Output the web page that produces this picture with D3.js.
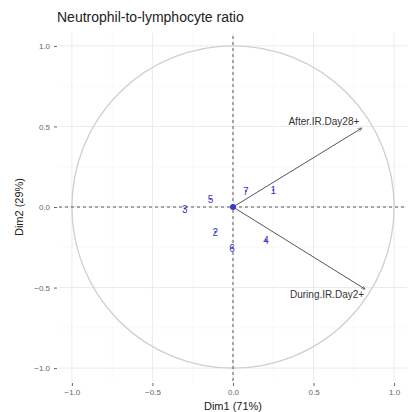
<!DOCTYPE html>
<html>
<head>
<meta charset="utf-8">
<script src="https://cdn.jsdelivr.net/npm/d3@7"></script>
<style>
  body { margin: 0; background: #fff; }
  svg { font-family: "Liberation Sans", Arial, sans-serif; }
</style>
</head>
<body>
<div id="chart"></div>
<script>
// individuals (PCA coordinates)
const indLabels = ["1", "2", "3", "4", "5", "6", "7"];
const indX = [0.25, -0.11, -0.30, 0.205, -0.14, -0.006, 0.08];
const indY = [0.105, -0.155, -0.01, -0.205, 0.05, -0.255, 0.10];

// variables (arrows)
const varNames = ["After.IR.Day28+", "During.IR.Day2+"];
const varX = [0.80, 0.82];
const varY = [0.49, -0.51];

const majorTicks = [-1.0, -0.5, 0.0, 0.5, 1.0];
const minorTicks = [-0.75, -0.25, 0.25, 0.75];

const width = 417, height = 412;
const margin = { top: 33, right: 10, bottom: 31, left: 59 };

const svg = d3.select("#chart")
    .append("svg")
    .attr("width", width)
    .attr("height", height);

const x = d3.scaleLinear().domain([-1.08, 1.08]).range([margin.left, width - margin.right]);
const y = d3.scaleLinear().domain([-1.08, 1.08]).range([height - margin.bottom, margin.top]);

// grid
const grid = svg.append("g");
grid.selectAll(".minx").data(minorTicks).enter().append("line")
    .attr("x1", d => x(d)).attr("x2", d => x(d))
    .attr("y1", y.range()[0]).attr("y2", y.range()[1])
    .attr("stroke", "#f3f3f3").attr("stroke-width", 0.5);
grid.selectAll(".miny").data(minorTicks).enter().append("line")
    .attr("y1", d => y(d)).attr("y2", d => y(d))
    .attr("x1", x.range()[0]).attr("x2", x.range()[1])
    .attr("stroke", "#f3f3f3").attr("stroke-width", 0.5);
grid.selectAll(".majx").data(majorTicks).enter().append("line")
    .attr("x1", d => x(d)).attr("x2", d => x(d))
    .attr("y1", y.range()[0]).attr("y2", y.range()[1])
    .attr("stroke", "#ebebeb").attr("stroke-width", 1);
grid.selectAll(".majy").data(majorTicks).enter().append("line")
    .attr("y1", d => y(d)).attr("y2", d => y(d))
    .attr("x1", x.range()[0]).attr("x2", x.range()[1])
    .attr("stroke", "#ebebeb").attr("stroke-width", 1);

// axes
const fmt = d3.format(".1f");
const xAxis = svg.append("g")
    .attr("transform", "translate(0," + (y.range()[0] + 2) + ")")
    .call(d3.axisBottom(x).tickValues(majorTicks).tickFormat(fmt).tickSize(3).tickPadding(3));
const yAxis = svg.append("g")
    .attr("transform", "translate(" + (x.range()[0] - 2) + ",0)")
    .call(d3.axisLeft(y).tickValues(majorTicks).tickFormat(fmt).tickSize(3).tickPadding(4));
[xAxis, yAxis].forEach(a => {
    a.select(".domain").remove();
    a.selectAll("line").attr("stroke", "#666");
    a.selectAll("text").attr("fill", "#666").style("font-size", "8px");
});

// correlation circle
svg.append("circle")
    .attr("cx", x(0)).attr("cy", y(0))
    .attr("r", x(1) - x(0))
    .attr("fill", "none")
    .attr("stroke", "#cfcfcf")
    .attr("stroke-width", 1.3);

// dashed zero lines
svg.append("line")
    .attr("x1", x.range()[0]).attr("x2", x.range()[1])
    .attr("y1", y(0)).attr("y2", y(0))
    .attr("stroke", "#333").attr("stroke-width", 0.8).attr("stroke-dasharray", "3,3");
svg.append("line")
    .attr("y1", y.range()[0]).attr("y2", y.range()[1])
    .attr("x1", x(0)).attr("x2", x(0))
    .attr("stroke", "#333").attr("stroke-width", 0.8).attr("stroke-dasharray", "3,3");

// arrows
svg.append("defs").append("marker")
    .attr("id", "head")
    .attr("viewBox", "0 0 10 10")
    .attr("refX", 10).attr("refY", 5)
    .attr("markerWidth", 4).attr("markerHeight", 4)
    .attr("orient", "auto")
    .append("path")
    .attr("d", "M0,0 L10,5 L0,10")
    .attr("fill", "none").attr("stroke", "#555566").attr("stroke-width", 1.5);

svg.selectAll(".arrow").data(varNames).enter().append("line")
    .attr("x1", x(0)).attr("y1", y(0))
    .attr("x2", (d, i) => x(varX[i])).attr("y2", (d, i) => y(varY[i]))
    .attr("stroke", "#555566").attr("stroke-width", 1)
    .attr("marker-end", "url(#head)");

svg.selectAll(".varlab").data(varNames).enter().append("text")
    .attr("x", (d, i) => x(varX[i]) - 38)
    .attr("y", (d, i) => y(varY[i]) + (varY[i] > 0 ? -3 : 9))
    .attr("text-anchor", "middle")
    .attr("fill", "#333")
    .style("font-size", "10px")
    .text(d => d);

// individuals
svg.selectAll(".ind").data(indLabels).enter().append("circle")
    .attr("cx", (d, i) => x(indX[i]))
    .attr("cy", (d, i) => y(indY[i]))
    .attr("r", 1)
    .attr("fill", "#3b3bc8");
svg.selectAll(".indlab").data(indLabels).enter().append("text")
    .attr("x", (d, i) => x(indX[i]))
    .attr("y", (d, i) => y(indY[i]) + 4)
    .attr("text-anchor", "middle")
    .attr("fill", "#3b3bc8")
    .style("font-size", "10px")
    .text(d => d);

// mean point
svg.append("circle")
    .attr("cx", x(0)).attr("cy", y(0))
    .attr("r", 3)
    .attr("fill", "#3b3bc8");

// titles
svg.append("text")
    .attr("x", 57).attr("y", 22)
    .attr("fill", "#222")
    .style("font-size", "14px")
    .text("Neutrophil-to-lymphocyte ratio");

svg.append("text")
    .attr("x", x(0)).attr("y", 410)
    .attr("text-anchor", "middle")
    .attr("fill", "#222")
    .style("font-size", "11px")
    .text("Dim1 (71%)");

svg.append("text")
    .attr("transform", "translate(23," + y(0) + ") rotate(-90)")
    .attr("text-anchor", "middle")
    .attr("fill", "#222")
    .style("font-size", "11px")
    .text("Dim2 (29%)");
</script>
</body>
</html>
